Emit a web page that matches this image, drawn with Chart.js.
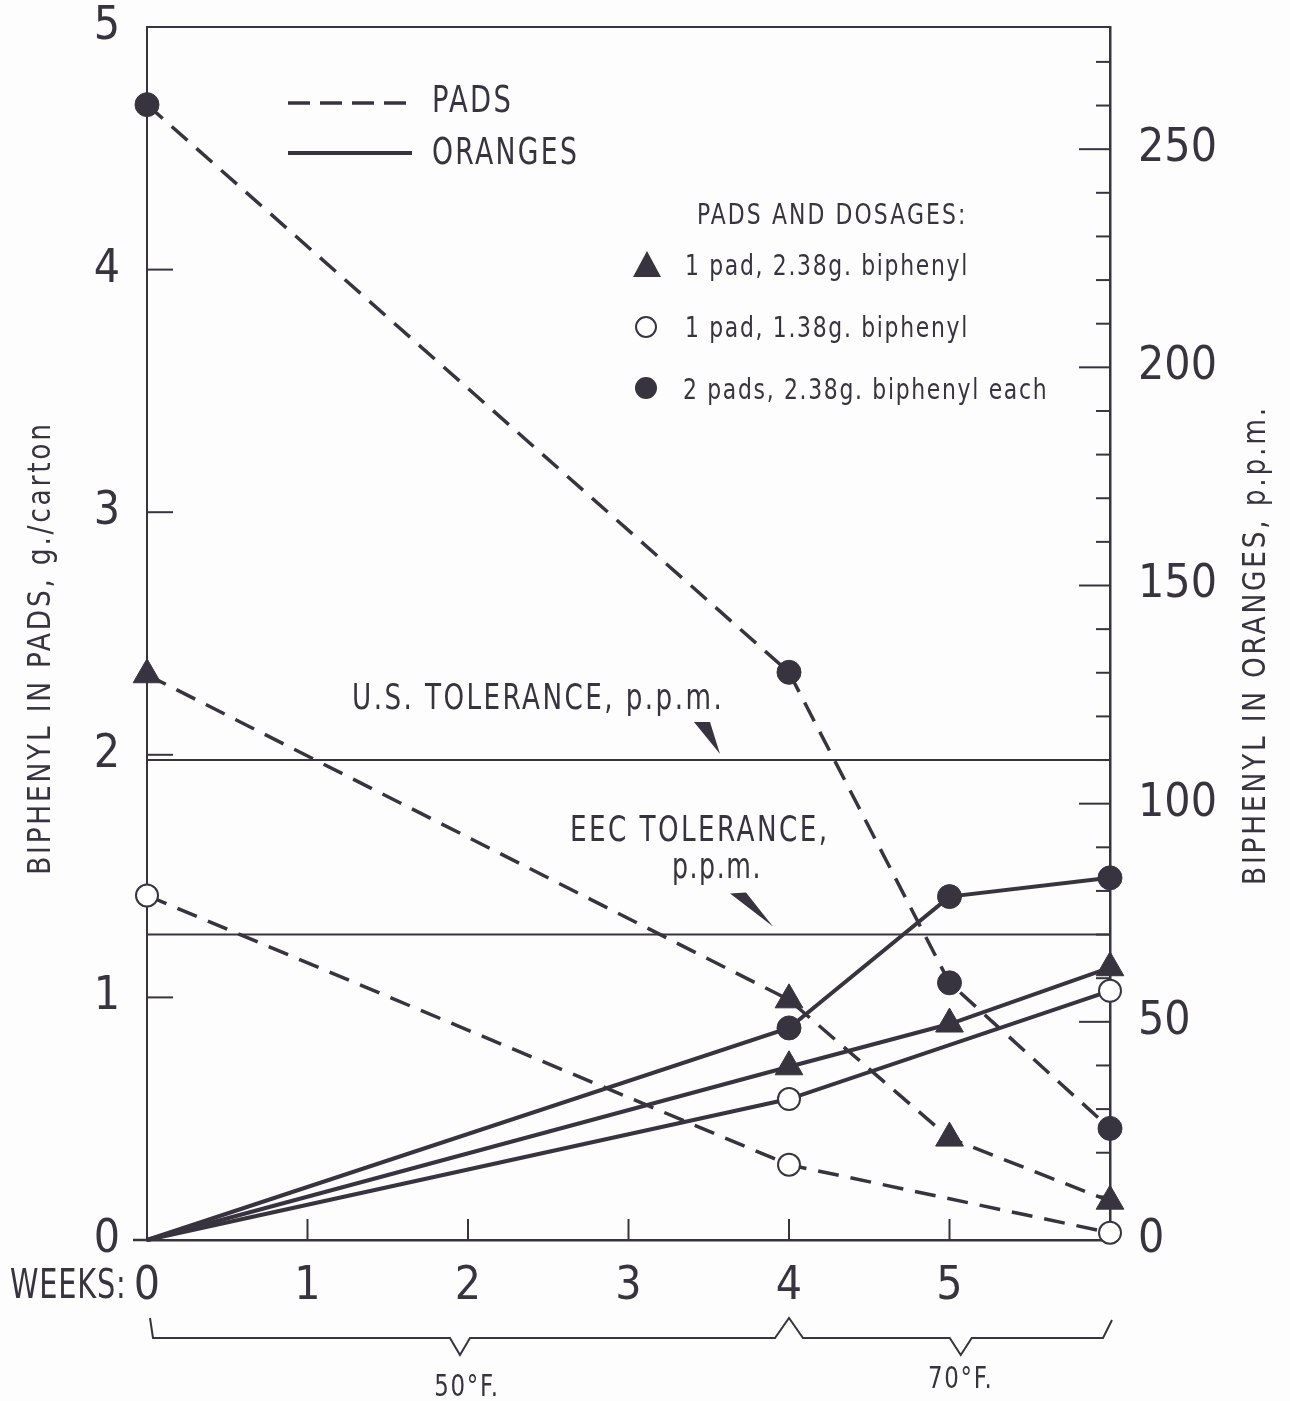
<!DOCTYPE html>
<html>
<head>
<meta charset="utf-8">
<title>Biphenyl in pads and oranges</title>
<script src="https://cdn.jsdelivr.net/npm/chart.js@4/dist/chart.umd.min.js"></script>
<style>
  html, body { margin: 0; padding: 0; background: #fdfdfd; }
  canvas { display: block; }
</style>
</head>
<body>
<canvas id="chart" width="1290" height="1401"></canvas>
<script>
// storage time, weeks
const weeks = [0, 4, 5, 6];

// biphenyl left in pads, g./carton (dashed lines, left axis)
const padsTwo = [4.68, 2.34, 1.06, 0.46];
const padsOne238 = [2.33, 0.99, 0.42, 0.16];
const padsOne138 = [1.42, 0.31, null, 0.03];

// biphenyl in oranges, p.p.m. (solid lines, right axis)
const orangesTwo = [0, 48.6, 78.7, 83.0];
const orangesOne238 = [0, 39.7, 49.5, 62.4];
const orangesOne138 = [0, 32.3, null, 57.1];

// tolerances, p.p.m.
const usTolerance = 110;
const eecTolerance = 70;

const INK = '#38343f';
const FONT = "'DejaVu Sans Condensed', 'DejaVu Sans', sans-serif";

function toPoints(vals) {
  return weeks.map((w, i) => vals[i] == null ? null : { x: w, y: vals[i] }).filter(p => p);
}

function flat(value) {
  return [{ x: 0, y: value }, { x: 6, y: value }];
}

// lettering on the figure is a narrow face, so squeeze the text a bit
function text(ctx, str, x, y, size, opts) {
  opts = opts || {};
  ctx.save();
  ctx.font = size + 'px ' + FONT;
  ctx.letterSpacing = (opts.sp || 0) + 'px';
  ctx.fillStyle = INK;
  ctx.textAlign = opts.align || 'left';
  ctx.textBaseline = 'middle';
  ctx.translate(x, y);
  if (opts.rot) ctx.rotate(opts.rot);
  ctx.scale(opts.sx || 1, 1);
  ctx.fillText(str, 0, 0);
  ctx.restore();
}

function line(ctx, pts, width, dash) {
  ctx.save();
  ctx.strokeStyle = INK;
  ctx.lineWidth = width;
  ctx.setLineDash(dash || []);
  ctx.beginPath();
  pts.forEach((p, i) => i ? ctx.lineTo(p[0], p[1]) : ctx.moveTo(p[0], p[1]));
  ctx.stroke();
  ctx.restore();
}

function poly(ctx, pts) {
  ctx.save();
  ctx.fillStyle = INK;
  ctx.beginPath();
  pts.forEach((p, i) => i ? ctx.lineTo(p[0], p[1]) : ctx.moveTo(p[0], p[1]));
  ctx.closePath();
  ctx.fill();
  ctx.restore();
}

// frame, inward ticks and all the hand lettering of the figure
const paperMarks = {
  id: 'paperMarks',
  beforeDatasetsDraw(chart) {
    const ctx = chart.ctx;
    const a = chart.chartArea;
    const xs = chart.scales.x, ys = chart.scales.y, y2 = chart.scales.y2;

    line(ctx, [[a.left, a.top], [a.right, a.top]], 2);
    line(ctx, [[a.left - 14, a.bottom], [a.left, a.bottom]], 2.5);

    for (let v = 1; v <= 4; v++) {
      const py = ys.getPixelForValue(v);
      line(ctx, [[a.left, py], [a.left + 26, py]], 2);
    }
    for (let v = 10; v <= 270; v += 10) {
      const py = y2.getPixelForValue(v);
      const len = v % 50 === 0 ? 31 : 14;
      line(ctx, [[a.right, py], [a.right - len, py]], 2);
    }
    for (let w = 1; w <= 5; w++) {
      const px = xs.getPixelForValue(w);
      line(ctx, [[px, a.bottom], [px, a.bottom - 21]], 2);
    }
  },
  afterDraw(chart) {
    const ctx = chart.ctx;
    const xs = chart.scales.x, y2 = chart.scales.y2;

    // line style key
    line(ctx, [[288, 103], [412, 103]], 3.5, [22, 10]);
    text(ctx, 'PADS', 432, 102, 38, { sp: 3, sx: 0.8 });
    line(ctx, [[288, 153], [412, 153]], 4);
    text(ctx, 'ORANGES', 432, 154, 38, { sp: 3, sx: 0.78 });

    // marker key
    text(ctx, 'PADS AND DOSAGES:', 697, 216, 29, { sp: 2.5, sx: 0.84 });
    poly(ctx, [[647, 251], [661, 277], [633, 277]]);
    text(ctx, '1 pad, 2.38g. biphenyl', 685, 267, 29, { sp: 2, sx: 0.84 });
    ctx.save();
    ctx.strokeStyle = INK; ctx.lineWidth = 2; ctx.fillStyle = '#ffffff';
    ctx.beginPath(); ctx.arc(646, 327, 10, 0, Math.PI * 2); ctx.fill(); ctx.stroke();
    ctx.fillStyle = INK;
    ctx.beginPath(); ctx.arc(646, 388, 11, 0, Math.PI * 2); ctx.fill();
    ctx.restore();
    text(ctx, '1 pad, 1.38g. biphenyl', 685, 329, 29, { sp: 2, sx: 0.84 });
    text(ctx, '2 pads, 2.38g. biphenyl each', 683, 391, 29, { sp: 2, sx: 0.84 });

    // tolerance notes with their pointers
    const usY = y2.getPixelForValue(usTolerance);
    const eecY = y2.getPixelForValue(eecTolerance);
    text(ctx, 'U.S. TOLERANCE, p.p.m.', 352, usY - 60, 36, { sp: 3, sx: 0.81 });
    poly(ctx, [[694, usY - 38], [710, usY - 38], [720, usY - 6]]);
    text(ctx, 'EEC TOLERANCE,', 570, eecY - 103, 36, { sp: 3, sx: 0.81 });
    text(ctx, 'p.p.m.', 717, eecY - 66, 36, { sp: 2, sx: 0.78, align: 'center' });
    poly(ctx, [[730, eecY - 41], [746, eecY - 42], [773, eecY - 8]]);

    // axis titles
    text(ctx, 'BIPHENYL IN PADS, g./carton', 42, 648, 32, { sp: 3, sx: 0.92, align: 'center', rot: -Math.PI / 2 });
    text(ctx, 'BIPHENYL IN ORANGES, p.p.m.', 1257, 645, 32, { sp: 3, sx: 0.92, align: 'center', rot: -Math.PI / 2 });

    // weeks label and temperature brackets
    text(ctx, 'WEEKS:', 10, 1288, 40, { sp: 1, sx: 0.8 });
    const bx = w => xs.getPixelForValue(w);
    const by = 1338;
    line(ctx, [
      [bx(0) + 3, by - 20], [bx(0) + 6, by],
      [bx(1.95) - 10, by], [bx(1.95), by + 17], [bx(1.95) + 10, by],
      [bx(4) - 14, by], [bx(4), by - 20], [bx(4) + 14, by],
      [bx(5.07) - 11, by], [bx(5.07), by + 17], [bx(5.07) + 11, by],
      [bx(6) - 7, by], [bx(6) + 2, by - 18]
    ], 2);
    text(ctx, '50°F.', bx(1.95) + 7, 1388, 30, { sp: 2, sx: 0.85, align: 'center' });
    text(ctx, '70°F.', bx(5.07), 1380, 30, { sp: 2, sx: 0.85, align: 'center' });
  }
};

const dashed = [21, 12];

function series(vals, axis, style, isPad) {
  const ds = {
    data: toPoints(vals),
    yAxisID: axis,
    borderColor: INK,
    borderWidth: isPad ? 3.5 : 4,
    borderDash: isPad ? dashed : [],
    tension: 0,
    spanGaps: true,
    clip: false,
    pointStyle: style === 'triangle' ? 'triangle' : 'circle',
    pointBackgroundColor: style === 'open' ? '#ffffff' : INK,
    pointBorderColor: INK,
    pointBorderWidth: style === 'open' ? 2 : 1,
    pointRadius: style === 'triangle' ? 16 : (style === 'open' ? 11 : 12)
  };
  if (!isPad) {
    // no marks at the origin for the oranges
    const r = ds.pointRadius;
    ds.pointRadius = ctx => (ctx.raw && ctx.raw.x === 0 ? 0 : r);
  }
  return ds;
}

const tickFont = { family: FONT, size: 46, lineHeight: 1 };
const fitY = w => s => { s.width = w; s.paddingTop = 0; s.paddingBottom = 0; };

new Chart(document.getElementById('chart'), {
  type: 'line',
  data: {
    datasets: [
      { data: flat(usTolerance), yAxisID: 'y2', borderColor: INK, borderWidth: 2, pointRadius: 0, clip: false },
      { data: flat(eecTolerance), yAxisID: 'y2', borderColor: INK, borderWidth: 2, pointRadius: 0, clip: false },
      series(orangesTwo, 'y2', 'filled', false),
      series(orangesOne238, 'y2', 'triangle', false),
      series(orangesOne138, 'y2', 'open', false),
      series(padsTwo, 'y', 'filled', true),
      series(padsOne238, 'y', 'triangle', true),
      series(padsOne138, 'y', 'open', true)
    ]
  },
  options: {
    responsive: false,
    animation: false,
    layout: { padding: { top: 27, left: 0, right: 0, bottom: 0 } },
    plugins: { legend: { display: false }, tooltip: { enabled: false } },
    scales: {
      x: {
        type: 'linear', min: 0, max: 6,
        afterFit: s => { s.height = 161; },
        grid: { display: false, drawTicks: false },
        border: { color: INK, width: 2.5 },
        ticks: {
          stepSize: 1, padding: 24, color: INK, font: tickFont,
          callback: v => (v === 6 ? '' : v)
        }
      },
      y: {
        position: 'left', min: 0, max: 5,
        afterFit: fitY(147),
        grid: { display: false, drawTicks: false },
        border: { color: INK, width: 2 },
        ticks: { stepSize: 1, padding: 27, color: INK, font: tickFont }
      },
      y2: {
        position: 'right', min: 0, max: 278,
        afterFit: fitY(180),
        grid: { display: false, drawTicks: false },
        border: { color: INK, width: 2.5 },
        ticks: {
          stepSize: 50, padding: 28, color: INK, autoSkip: false, font: tickFont,
          callback: v => (v % 50 === 0 ? v : '')
        }
      }
    }
  },
  plugins: [paperMarks]
});
</script>
</body>
</html>
